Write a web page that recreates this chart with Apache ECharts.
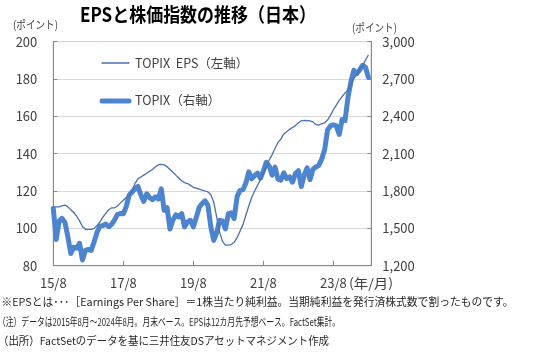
<!DOCTYPE html>
<html><head><meta charset="utf-8">
<script src="https://cdn.jsdelivr.net/npm/echarts@6/dist/echarts.min.js"></script>
<style>html,body{margin:0;padding:0;background:#fff}#c{width:550px;height:362px}</style>
</head><body><div id="c"></div>
<script>
// ---- data ----
const startYear = 2015, startMonth = 8, categoryCount = 110; // 15/8 .. 24/9 (axis extends one month past data)
const tickLabels = ['15/8', '17/8', '19/8', '21/8', '23/8'];
const epsValues = [
  111.5, 111.5, 111.5, 112, 112.5, 111.5, 110, 108.5, 106.5, 104,
  101, 99.5, 99.5, 99.5, 100, 101.5, 103.5, 106, 108, 110,
  111, 111, 112, 113.5, 115, 116.5, 117.5, 120, 124, 126.5,
  127.5, 128.5, 129.5, 130.5, 131.5, 133, 134, 134.3, 134, 133,
  131.5, 130, 128.5, 127, 125.5, 124.5, 124, 123, 122, 121.5,
  121, 120.5, 120, 119.5, 118, 114, 106, 98, 93, 91,
  91, 91.3, 92.5, 95, 98.5, 102, 107, 112, 116.5, 120,
  123, 126, 129.5, 133, 136.6, 139.5, 142.8, 146, 147.8, 150.5,
  151.7, 153, 154, 155, 156.5, 157.6, 157.8, 157.7, 157.5, 157,
  155.5, 155.3, 156, 156.5, 158, 160.5, 163.5, 166, 168.5, 170.5,
  172.5, 174, 177, 180.5, 182, 185.5, 187, 190, 192.8
];
const topixValues = [
  1660, 1411, 1558, 1580, 1547,
  1432, 1298, 1347, 1341, 1380, 1246, 1323, 1330, 1323, 1393, 1469, 1519,
  1522, 1535, 1513, 1532, 1568, 1612, 1619, 1617, 1675, 1766, 1792, 1818,
  1837, 1768, 1716, 1777, 1747, 1731, 1753, 1735, 1817, 1646, 1667, 1494,
  1567, 1608, 1592, 1618, 1512, 1551, 1565, 1512, 1588, 1667, 1699, 1721,
  1684, 1511, 1403, 1464, 1564, 1559, 1496, 1618, 1625, 1579, 1755, 1805,
  1809, 1864, 1954, 1898, 1923, 1944, 1901, 1961, 2030, 2001, 1928, 1992,
  1896, 1887, 1946, 1900, 1913, 1871, 1940, 1963, 1836, 1929, 1986, 1892,
  1975, 1993, 2004, 2057, 2131, 2289, 2323, 2332, 2323, 2254, 2375, 2366,
  2551, 2676, 2769, 2743, 2772, 2810, 2794, 2713
];
const leftTicks = {min: 80, max: 200, interval: 20};
const rightTicks = {min: 1200, max: 3000, interval: 300};
const seriesNames = ['TOPIX  EPS（左軸）', 'TOPIX（右軸）'];
const titleText = 'EPSと株価指数の推移（日本）';
const unitText = '(ポイント)';
const xUnitText = '(年/月)';
const notes = [
  '※EPSとは･･･［Earnings Per Share］＝1株当たり純利益。当期純利益を発行済株式数で割ったものです。',
  '（注）データは2015年8月～2024年8月。月末ベース。EPSは12カ月先予想ベース。FactSet集計。',
  '（出所）FactSetのデータを基に三井住友DSアセットマネジメント作成'
];

// ---- build ----
const categories = [];
for (let i = 0; i < categoryCount; i++) {
  const t = (startMonth - 1) + i;
  const y = startYear + Math.floor(t / 12), m = (t % 12) + 1;
  categories.push(String(y).slice(2) + '/' + m);
}
const FONT = '"Noto Sans CJK JP","Noto Sans",sans-serif';
const mctx = document.createElement('canvas').getContext('2d');
function scaleFor(text, size, weight, target) {
  mctx.font = weight + ' ' + size + 'px ' + FONT;
  return target / mctx.measureText(text).width;
}
function txt(text, x, y, size, weight, target, color) {
  const s = target ? scaleFor(text, size, weight, target) : 1;
  return {type: 'text', x: x, y: y, scaleX: s, silent: true,
    style: {text: text, fontSize: size, fontWeight: weight, fontFamily: FONT, fill: color, align: 'left', verticalAlign: 'middle'}};
}
const axisGray = '#8a8a8a', labelColor = '#404040';
const epsColor = '#4a6fae', topixColor = '#4d84cf';
const legendTop = 56, legendLeft = 101, legendW = 29, legendPitch = 38;
function legendLine(i, width, color) {
  const y = legendTop + 7 + i * legendPitch;
  return {type: 'line', silent: true, z: 10,
    shape: {x1: legendLeft + 1, y1: y, x2: legendLeft + legendW - 1, y2: y},
    style: {stroke: color, lineWidth: width, lineCap: 'round'}};
}
const chart = echarts.init(document.getElementById('c'));
chart.setOption({
  animation: false,
  grid: {left: 53.3, right: 178.7, top: 41.6, bottom: 96.3, show: true, borderColor: axisGray, borderWidth: 1},
  legend: {
    data: seriesNames, icon: 'none',
    orient: 'vertical', left: legendLeft, top: legendTop, itemWidth: legendW, itemHeight: 14,
    itemGap: legendPitch - 14, padding: 0, selectedMode: false,
    textStyle: {fontSize: 12.5, color: labelColor, fontFamily: FONT}
  },
  xAxis: {
    type: 'category', data: categories, boundaryGap: false,
    axisLine: {lineStyle: {color: axisGray}},
    axisTick: {inside: true, length: 5, interval: 23, lineStyle: {color: axisGray}},
    axisLabel: {interval: 23, margin: 11, fontSize: 13, color: labelColor, fontFamily: FONT,
      formatter: v => tickLabels.indexOf(v) >= 0 ? v : ''},
    splitLine: {show: false}
  },
  yAxis: [{
    type: 'value', min: leftTicks.min, max: leftTicks.max, interval: leftTicks.interval,
    axisLine: {show: true, lineStyle: {color: axisGray}},
    axisTick: {show: true, inside: true, length: 4, lineStyle: {color: axisGray}},
    axisLabel: {margin: 16, fontSize: 13, color: labelColor, fontFamily: FONT},
    splitLine: {show: true, lineStyle: {color: '#d9d9d9', width: 1}}
  }, {
    type: 'value', min: rightTicks.min, max: rightTicks.max, interval: rightTicks.interval,
    axisLine: {show: true, lineStyle: {color: axisGray}},
    axisTick: {show: true, inside: true, length: 4, lineStyle: {color: axisGray}},
    axisLabel: {margin: 11, fontSize: 13, color: labelColor, fontFamily: FONT,
      formatter: v => v.toLocaleString('en-US')},
    splitLine: {show: false}
  }],
  series: [{
    name: seriesNames[1], type: 'line', yAxisIndex: 1, data: topixValues, symbol: 'none', z: 2,
    lineStyle: {width: 5, color: topixColor, cap: 'round', join: 'round'}, itemStyle: {color: topixColor}
  }, {
    name: seriesNames[0], type: 'line', yAxisIndex: 0, data: epsValues, symbol: 'none', z: 3,
    lineStyle: {width: 1.3, color: epsColor}, itemStyle: {color: epsColor}
  }],
  graphic: [
    legendLine(0, 1.3, epsColor),
    legendLine(1, 5, topixColor),
    txt(titleText, 80, 14.5, 19.5, 'bold', 236, '#000'),
    txt(unitText, 13, 25, 11, 'normal', 45, labelColor),
    txt(unitText, 352, 28, 11, 'normal', 45, labelColor),
    txt(xUnitText, 349, 283, 13, 'normal', 44, labelColor),
    txt(notes[0], 1.5, 302, 11, 'normal', 512, '#262626'),
    txt(notes[1], -2, 321.5, 11, 'normal', 342, '#262626'),
    txt(notes[2], -2, 340.5, 11, 'normal', 331, '#262626')
  ]
});
</script></body></html>
